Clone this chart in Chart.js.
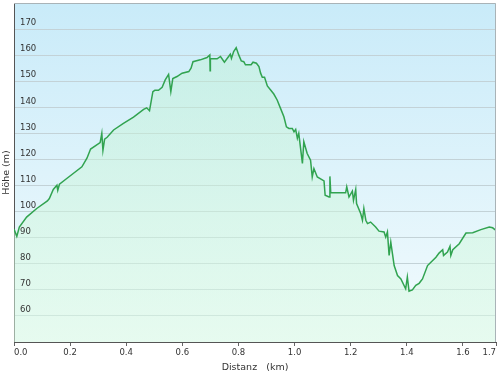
<!DOCTYPE html>
<html>
<head>
<meta charset="utf-8">
<script src="https://cdn.jsdelivr.net/npm/chart.js@4"></script>
<style>
  html, body { margin: 0; padding: 0; background: #fff; }
  #wrap { width: 500px; height: 376px; }
</style>
</head>
<body>
<div id="wrap"><canvas id="profile"></canvas></div>
<script>
// elevation profile, distance in km / height in m
const distKm = [
  0.000, 0.010, 0.019, 0.045, 0.081, 0.119, 0.126, 0.140, 0.153, 0.156,
  0.162, 0.188, 0.242, 0.260, 0.273, 0.307, 0.313, 0.317, 0.323, 0.332,
  0.355, 0.390, 0.426, 0.462, 0.473, 0.483, 0.495, 0.502, 0.515, 0.528,
  0.539, 0.551, 0.559, 0.566, 0.581, 0.599, 0.623, 0.631, 0.638, 0.664,
  0.688, 0.698, 0.699, 0.700, 0.724, 0.736, 0.750, 0.765, 0.771, 0.775,
  0.783, 0.792, 0.801, 0.810, 0.819, 0.825, 0.845, 0.852, 0.864, 0.873,
  0.879, 0.885, 0.893, 0.903, 0.914, 0.926, 0.938, 0.950, 0.962, 0.971,
  0.980, 0.992, 0.998, 1.004, 1.010, 1.015, 1.028, 1.033, 1.045, 1.057,
  1.063, 1.069, 1.081, 1.105, 1.109, 1.123, 1.126, 1.129, 1.182, 1.186,
  1.194, 1.206, 1.210, 1.218, 1.221, 1.236, 1.242, 1.247, 1.254, 1.260,
  1.271, 1.289, 1.301, 1.319, 1.325, 1.331, 1.337, 1.343, 1.355, 1.367,
  1.379, 1.396, 1.402, 1.408, 1.420, 1.432, 1.444, 1.456, 1.474, 1.486,
  1.504, 1.515, 1.528, 1.531, 1.545, 1.554, 1.557, 1.564, 1.587, 1.611,
  1.635, 1.664, 1.694, 1.706, 1.718
];
const heightM = [
  93.3, 90.5, 94.1, 97.9, 101.2, 104.1, 105.0, 108.5, 110.1, 108.2,
  110.5, 112.7, 117.2, 120.5, 124.0, 126.5, 130.0, 123.5, 127.8, 128.5,
  131.3, 133.8, 136.2, 139.2, 139.8, 138.7, 146.0, 146.5, 146.5, 147.7,
  150.5, 152.6, 146.0, 151.0, 151.8, 153.1, 153.7, 155.0, 157.5, 158.2,
  159.1, 160.1, 154.0, 158.6, 158.6, 159.5, 157.3, 159.5, 160.4, 158.8,
  161.4, 162.9, 160.1, 157.8, 157.5, 156.3, 156.3, 157.3, 156.9, 155.6,
  153.1, 151.5, 151.5, 148.2, 146.7, 145.1, 142.8, 139.6, 136.4, 132.5,
  131.9, 131.9, 130.6, 131.5, 128.1, 130.0, 118.5, 126.8, 122.3, 119.7,
  113.3, 116.5, 113.3, 111.8, 106.3, 105.6, 113.5, 107.2, 107.2, 109.5,
  105.6, 107.9, 104.3, 108.5, 103.1, 99.2, 96.7, 101.2, 96.7, 95.4,
  96.0, 94.1, 92.5, 92.2, 90.2, 92.2, 83.2, 88.3, 79.3, 75.5,
  74.2, 70.4, 74.9, 69.5, 70.0, 71.7, 72.5, 74.2, 79.3, 80.6,
  82.5, 84.1, 85.4, 83.2, 84.5, 86.7, 83.2, 85.4, 87.7, 91.8,
  91.9, 93.1, 94.1, 93.8, 92.8
];
const xTicks = [0, 0.2, 0.4, 0.6, 0.8, 1.0, 1.2, 1.4, 1.6, 1.718];
const yTicks = [60, 70, 80, 90, 100, 110, 120, 130, 140, 150, 160, 170];
const xMax = 1.718;
const yMin = 50;
const yMax = 180;

const font = { family: 'DejaVu Sans', size: 8.5 };
const titleFont = { family: 'DejaVu Sans', size: 9.5 };

// blue sky gradient behind the plot + gray frame on top/right
const plotBackground = {
  id: 'plotBackground',
  beforeDraw(chart) {
    const { ctx, chartArea: a } = chart;
    const g = ctx.createLinearGradient(0, a.top, 0, a.bottom);
    g.addColorStop(0, '#c9ebf9');
    g.addColorStop(1, '#f3fbfd');
    ctx.save();
    ctx.fillStyle = g;
    ctx.fillRect(a.left, a.top, a.right - a.left, a.bottom - a.top);
    ctx.restore();
  },
  afterDraw(chart) {
    const { ctx, chartArea: a } = chart;
    ctx.save();
    ctx.strokeStyle = '#a9b3b7';
    ctx.lineWidth = 1;
    ctx.beginPath();
    ctx.moveTo(a.left, a.top + 0.5);
    ctx.lineTo(a.right - 0.5, a.top + 0.5);
    ctx.lineTo(a.right - 0.5, a.bottom);
    ctx.stroke();
    ctx.restore();
  }
};

new Chart(document.getElementById('profile').getContext('2d'), {
  type: 'line',
  data: {
    datasets: [{
      data: distKm.map((d, i) => ({ x: d, y: heightM[i] })),
      borderColor: '#31a350',
      borderWidth: 1.5,
      pointRadius: 0,
      tension: 0,
      fill: 'start',
      backgroundColor(c) {
        const a = c.chart.chartArea;
        if (!a) return 'rgba(0,0,0,0)';
        const g = c.chart.ctx.createLinearGradient(0, a.top, 0, a.bottom);
        g.addColorStop(0, 'rgba(185,240,205,0.4)');
        g.addColorStop(1, 'rgba(220,251,228,0.55)');
        return g;
      }
    }]
  },
  options: {
    responsive: true,
    maintainAspectRatio: false,
    animation: false,
    layout: { padding: { top: 3, right: 4, left: 0, bottom: 0 } },
    plugins: { legend: { display: false }, tooltip: { enabled: false } },
    scales: {
      x: {
        type: 'linear',
        min: 0,
        max: xMax,
        afterBuildTicks: s => { s.ticks = xTicks.map(v => ({ value: v })); },
        afterFit: s => { s.height = 34; s.paddingLeft = 0; s.paddingRight = 0; },
        grid: { drawOnChartArea: false, drawTicks: true, tickLength: 4, tickColor: '#666' },
        border: { color: '#555', width: 1 },
        ticks: {
          font: font,
          color: '#333',
          padding: 2,
          align: 'inner',
          maxRotation: 0,
          autoSkip: false,
          callback: v => Number(v).toFixed(1)
        },
        title: {
          display: true,
          text: 'Distanz   (km)',
          font: titleFont,
          color: '#333',
          padding: { top: 3, bottom: 3 }
        }
      },
      y: {
        min: yMin,
        max: yMax,
        afterBuildTicks: s => { s.ticks = yTicks.map(v => ({ value: v })); },
        afterFit: s => { s.width = 14; s.paddingTop = 0; s.paddingBottom = 0; },
        grid: { color: '#c3d2d7', drawTicks: false },
        border: { color: '#555', width: 1 },
        ticks: {
          z: 1,
          mirror: true,
          padding: 6,
          labelOffset: -6,
          font: font,
          color: '#333'
        },
        title: {
          display: true,
          text: 'Höhe (m)',
          font: titleFont,
          color: '#333',
          padding: { top: 1, bottom: 1 }
        }
      }
    }
  },
  plugins: [plotBackground]
});
</script>
</body>
</html>
